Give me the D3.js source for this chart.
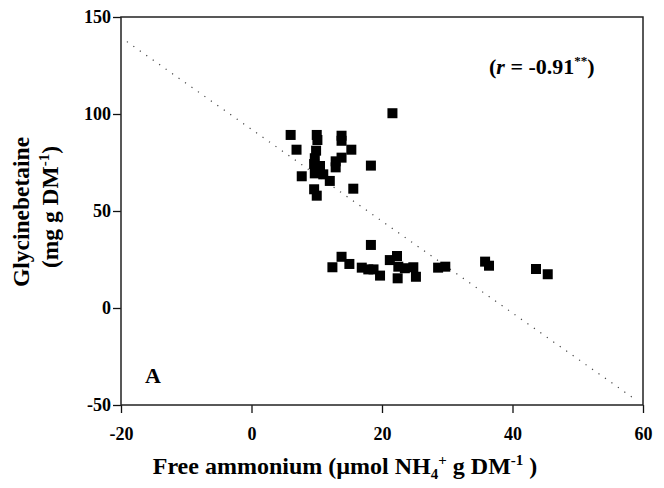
<!DOCTYPE html>
<html>
<head>
<meta charset="utf-8">
<script src="https://cdn.jsdelivr.net/npm/d3@7"></script>
<style>
  body { margin: 0; background: #fff; }
  text { font-family: "Liberation Serif", "Times New Roman", serif; font-weight: bold; }
</style>
</head>
<body>
<div id="chart"></div>
<script>
// free ammonium (x) and glycinebetaine (y)
const ammonium = [6.0, 10.0, 10.1, 13.8, 13.8, 6.9, 9.9, 15.3, 9.7, 13.8, 12.9, 9.6, 10.5, 18.3, 12.9,
    9.7, 11.0, 7.7, 12.0, 15.6, 9.6, 10.0, 21.6,
    18.3, 13.8, 12.4, 15.0, 16.9, 17.9, 18.7, 19.7, 21.2, 22.3, 22.5, 22.4, 23.5, 24.8, 25.2, 28.6, 29.7, 35.8, 36.4,
    43.6, 45.4];
const glycinebetaine = [89.2, 89.2, 86.6, 88.8, 86.2, 81.6, 81.1, 81.6, 77.2, 77.5, 75.6, 74.2, 73.2, 73.4, 72.5,
    69.4, 68.9, 67.9, 65.5, 61.5, 61.2, 57.9, 100.4,
    32.5, 26.4, 21.0, 22.7, 20.8, 19.9, 19.9, 16.7, 24.7, 26.8, 21.3, 15.3, 20.5, 21.0, 16.1, 20.8, 21.3, 23.9, 21.8,
    20.1, 17.4];

// regression line  y = 92.1 - 2.367 x
const fitX = [-19.1, 58.9];
const fitIntercept = 92.1, fitSlope = -2.367;

const xTicks = [-20, 0, 20, 40, 60];
const yTicks = [-50, 0, 50, 100, 150];

const width = 664, height = 488;
const margin = {left: 121, right: 21, top: 17, bottom: 83};

const svg = d3.select("#chart").append("svg")
    .attr("width", width)
    .attr("height", height);

const x = d3.scaleLinear().domain([-20, 60]).range([margin.left, width - margin.right]);
const y = d3.scaleLinear().domain([-50, 150]).range([height - margin.bottom, margin.top]);

// plain hyphen for negatives, like the original
const fmt = d => String(d);

// x axis
svg.append("g")
    .attr("transform", `translate(0,${y(-50)})`)
    .call(d3.axisBottom(x).tickValues(xTicks).tickFormat(fmt).tickSize(8).tickSizeOuter(0).tickPadding(14))
    .call(g => g.select(".domain").remove())
    .call(g => g.selectAll("line").attr("stroke", "#111").attr("stroke-width", 1.3))
    .call(g => g.selectAll("text").attr("font-size", 18).attr("fill", "#000")
        .attr("font-family", "Liberation Serif").attr("font-weight", "bold"));

// y axis
svg.append("g")
    .attr("transform", `translate(${x(-20)},0)`)
    .call(d3.axisLeft(y).tickValues(yTicks).tickFormat(fmt).tickSize(8).tickSizeOuter(0).tickPadding(2))
    .call(g => g.select(".domain").remove())
    .call(g => g.selectAll("line").attr("stroke", "#111").attr("stroke-width", 1.3))
    .call(g => g.selectAll("text").attr("font-size", 18).attr("fill", "#000")
        .attr("font-family", "Liberation Serif").attr("font-weight", "bold"));

// frame
svg.append("rect")
    .attr("x", x(-20))
    .attr("y", y(150))
    .attr("width", x(60) - x(-20))
    .attr("height", y(-50) - y(150))
    .attr("fill", "none")
    .attr("stroke", "#222")
    .attr("stroke-width", 1.5);

// fit line
svg.append("line")
    .attr("x1", x(fitX[0]))
    .attr("y1", y(fitIntercept + fitSlope * fitX[0]))
    .attr("x2", x(fitX[1]))
    .attr("y2", y(fitIntercept + fitSlope * fitX[1]))
    .attr("stroke", "#444")
    .attr("stroke-width", 1.2)
    .attr("stroke-dasharray", "1.2,6.7");

// points
const sq = 10;
svg.append("g").selectAll("rect")
    .data(d3.range(ammonium.length))
    .enter()
    .append("rect")
    .attr("x", i => x(ammonium[i]) - sq / 2)
    .attr("y", i => y(glycinebetaine[i]) - sq / 2)
    .attr("width", sq)
    .attr("height", sq)
    .attr("fill", "#000");

// r annotation
const rText = svg.append("text")
    .attr("x", 489)
    .attr("y", 74)
    .attr("font-size", 22);
rText.append("tspan").text("(");
rText.append("tspan").attr("font-style", "italic").text("r");
rText.append("tspan").text(" = -0.91");
rText.append("tspan").attr("font-size", 13).attr("dy", -9).text("**");
rText.append("tspan").attr("dy", 9).text(")");

// panel letter
svg.append("text")
    .attr("x", 145)
    .attr("y", 383)
    .attr("font-size", 22)
    .text("A");

// x title
const xTitle = svg.append("text")
    .attr("x", 345)
    .attr("y", 474)
    .attr("text-anchor", "middle")
    .attr("font-size", 24);
xTitle.append("tspan").text("Free ammonium (µmol NH");
xTitle.append("tspan").attr("font-size", 15).attr("dy", 5).text("4");
xTitle.append("tspan").attr("font-size", 15).attr("dy", -14).text("+");
xTitle.append("tspan").attr("dy", 9).text(" g DM");
xTitle.append("tspan").attr("font-size", 15).attr("dy", -9).text("-1");
xTitle.append("tspan").attr("dy", 9).text(" )");

// y title
const yTitle = svg.append("g")
    .attr("transform", "translate(0,212) rotate(-90)");
yTitle.append("text")
    .attr("x", 0)
    .attr("y", 29)
    .attr("text-anchor", "middle")
    .attr("font-size", 23.5)
    .text("Glycinebetaine");
const yTitle2 = yTitle.append("text")
    .attr("x", 5)
    .attr("y", 58)
    .attr("text-anchor", "middle")
    .attr("font-size", 23.5);
yTitle2.append("tspan").text("(mg g DM");
yTitle2.append("tspan").attr("font-size", 15).attr("dy", -9).text("-1");
yTitle2.append("tspan").attr("dy", 9).text(")");
</script>
</body>
</html>
